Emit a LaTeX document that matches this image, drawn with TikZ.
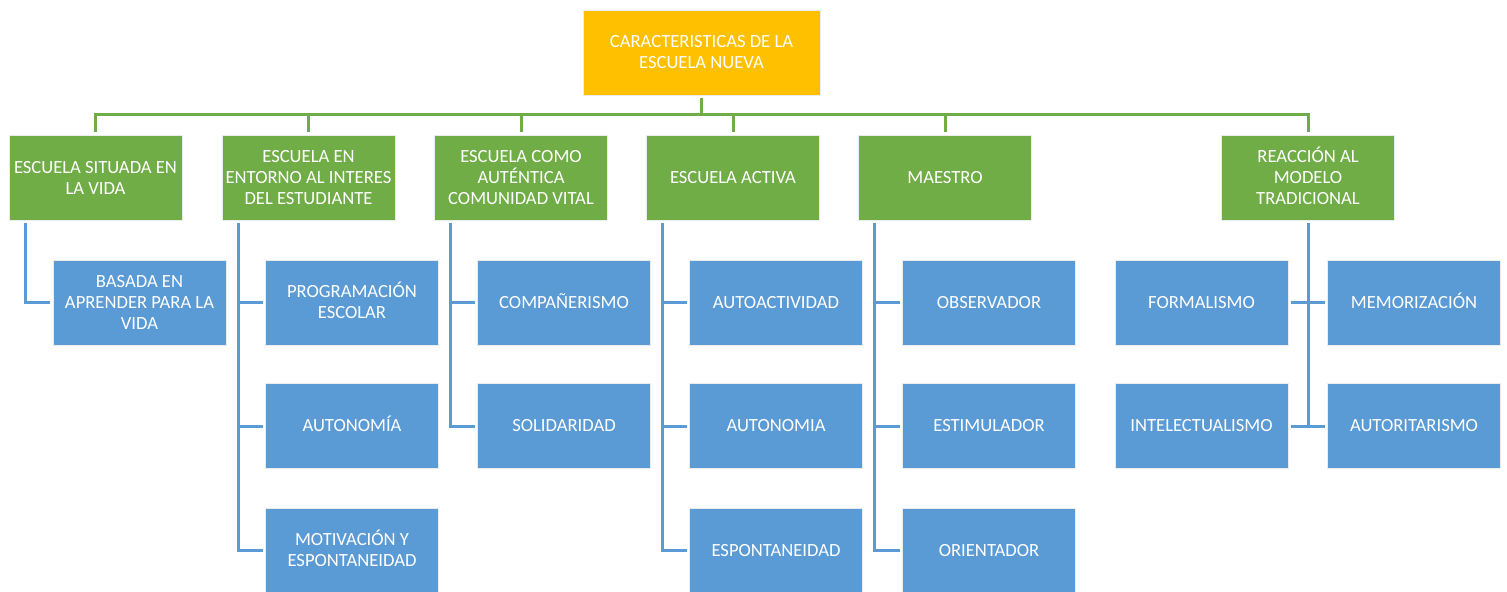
\documentclass[tikz,border=0pt]{standalone}
\usepackage{fontspec}
\setmainfont{Carlito}
\usetikzlibrary{positioning}

\begin{document}
\begin{tikzpicture}[x=0.5pt,y=-0.5pt,
	box/.style={rectangle,draw=white!85!gray,line width=0.4pt,text=white,align=center,
		minimum width=86.5pt,minimum height=42.5pt,inner sep=1pt,outer sep=1.5pt,
		font=\fontsize{9.3}{10.5}\selectfont},
	raiz/.style={box,fill={rgb,255:red,255;green,192;blue,0},minimum width=118.5pt},
	rama/.style={box,fill={rgb,255:red,112;green,173;blue,71}},
	hoja/.style={box,fill={rgb,255:red,91;green,155;blue,213}},
	lineav/.style={draw={rgb,255:red,112;green,173;blue,71},line width=1.5pt},
	lineaa/.style={draw={rgb,255:red,91;green,155;blue,213},line width=1.5pt}]

\useasboundingbox (0,0) rectangle (1507,592);

\node[raiz] (raiz) at (701.5,52.5) {CARACTERISTICAS DE LA\\ESCUELA NUEVA};

\node[rama] (r1) at (95.5,177.5) {ESCUELA SITUADA EN\\LA VIDA};
\node[rama] (r2) at (308.5,177.5) {ESCUELA EN\\ENTORNO AL INTERES\\DEL ESTUDIANTE};
\node[rama] (r3) at (521,177.5) {ESCUELA COMO\\AUT\smash{É}NTICA\\COMUNIDAD VITAL};
\node[rama] (r4) at (733,177.5) {ESCUELA ACTIVA};
\node[rama] (r5) at (945,177.5) {MAESTRO};
\node[rama] (r6) at (1308,177.5) {REACCI\smash{Ó}N AL\\MODELO\\TRADICIONAL};

\node[hoja] (h11) at (139.5,302.5) {BASADA EN\\APRENDER PARA LA\\VIDA};
\node[hoja] (h21) at (352,302.5) {PROGRAMACI\smash{Ó}N\\ESCOLAR};
\node[hoja] (h22) at (352,426) {AUTONOM\smash{Í}A};
\node[hoja] (h23) at (352,550.5) {MOTIVACI\smash{Ó}N Y\\ESPONTANEIDAD};
\node[hoja] (h31) at (564,302.5) {COMPA\smash{Ñ}ERISMO};
\node[hoja] (h32) at (564,426) {SOLIDARIDAD};
\node[hoja] (h41) at (776,302.5) {AUTOACTIVIDAD};
\node[hoja] (h42) at (776,426) {AUTONOMIA};
\node[hoja] (h43) at (776,550.5) {ESPONTANEIDAD};
\node[hoja] (h51) at (989,302.5) {OBSERVADOR};
\node[hoja] (h52) at (989,426) {ESTIMULADOR};
\node[hoja] (h53) at (989,550.5) {ORIENTADOR};
\node[hoja] (h61) at (1201.5,302.5) {FORMALISMO};
\node[hoja] (h62) at (1414,302.5) {MEMORIZACI\smash{Ó}N};
\node[hoja] (h63) at (1201.5,426) {INTELECTUALISMO};
\node[hoja] (h64) at (1414,426) {AUTORITARISMO};

\coordinate (bus) at (702,115);
\foreach \r in {r1,r2,r3,r4,r5,r6}
	\draw[lineav] (raiz.south) |- (bus -| \r.north) -- (\r.north);

\foreach \r/\h in {r1/h11,r2/h21,r2/h22,r2/h23,r3/h31,r3/h32,r4/h41,r4/h42,r4/h43,r5/h51,r5/h52,r5/h53}
	\draw[lineaa] ([xshift=9.5pt]\r.south west) |- (\h.west);

\draw[lineaa] (r6.south) |- (h63.east);
\draw[lineaa] (r6.south) |- (h64.west);
\draw[lineaa] (h61.east) -- (h62.west);
\end{tikzpicture}
\end{document}
